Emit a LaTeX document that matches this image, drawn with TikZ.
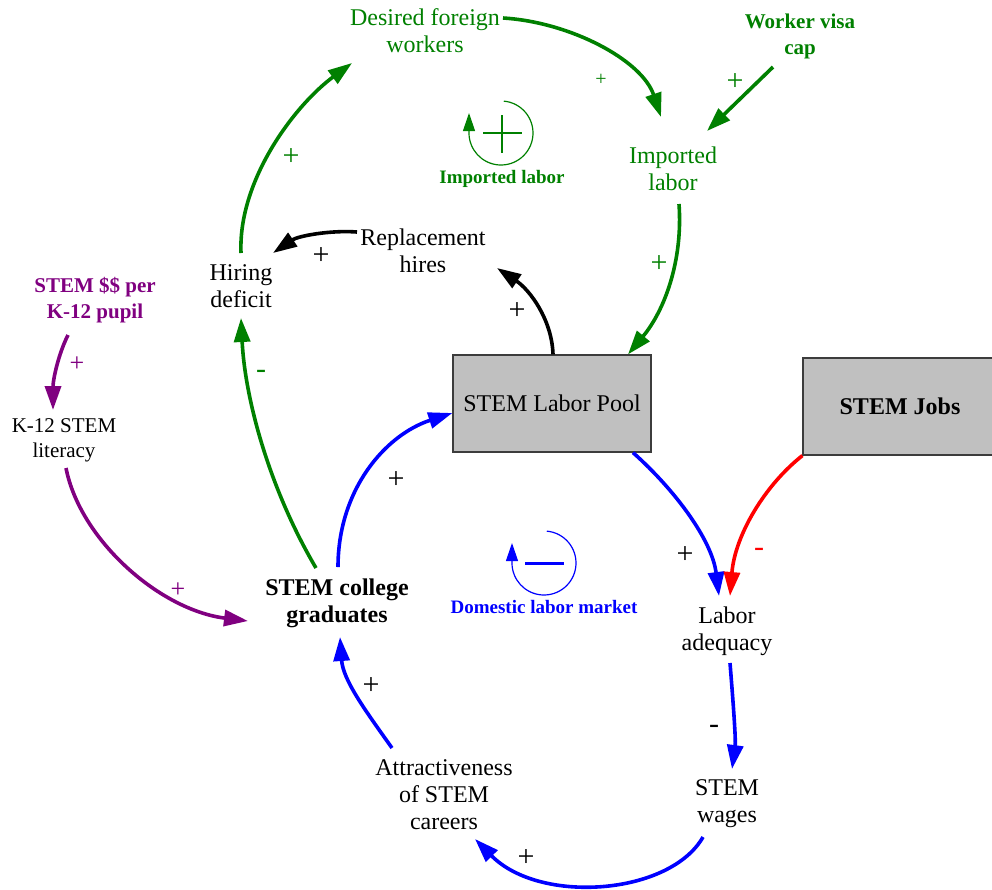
\documentclass[tikz,border=0pt]{standalone}
\usepackage{fontspec}
\setmainfont{Liberation Serif}
\usetikzlibrary{arrows.meta,calc}

\definecolor{cldgreen}{RGB}{0,128,0}
\definecolor{cldpurple}{RGB}{128,0,128}
\definecolor{cldblue}{RGB}{0,0,255}
\definecolor{cldred}{RGB}{255,0,0}
\definecolor{stockfill}{RGB}{192,192,192}
\definecolor{stockline}{RGB}{60,60,60}

\begin{document}
\begin{tikzpicture}[x=0.5pt,y=-0.5pt,
  var/.style={align=center, font=\fontsize{12}{13.5}\selectfont, inner sep=0pt},
  exo/.style={align=center, font=\fontsize{10.5}{13}\selectfont\bfseries, inner sep=0pt},
  stock/.style={draw=stockline, line width=0.6pt, fill=stockfill,
    font=\fontsize{12}{13.5}\selectfont, inner sep=0pt,
    minimum width=99pt, minimum height=48.5pt},
  link/.style={line width=1.8pt, -{Triangle[length=12pt,width=8pt]}},
  pol/.style={font=\fontsize{15}{15}\selectfont, inner sep=0pt},
  loopname/.style={font=\fontsize{9.5}{11}\selectfont\bfseries, inner sep=0pt},
  loopring/.style={line width=0.6pt, -{Triangle[length=9pt,width=6pt]}},
]
\clip (0,0) rectangle (992,890);

% ---- variables ----
\node[var, text=cldgreen] (dfw) at (425,31) {Desired foreign\\workers};
\node[exo, text=cldgreen] (wvc) at (800,36) {Worker visa\\cap};
\node[var, text=cldgreen] (il) at (673,169) {Imported\\labor};
\node[var] (rh) at (423,251) {Replacement\\hires};
\node[var] (hd) at (241,286) {Hiring\\deficit};
\node[exo, text=cldpurple] (spp) at (95,300) {STEM \$\$ per\\K-12 pupil};
\node[var, font=\fontsize{10.5}{12.5}\selectfont] (k12) at (64,440) {K-12 STEM\\literacy};
\node[stock] (lp) at (552,403.5) {STEM Labor Pool};
\node[stock, minimum width=97pt, font=\fontsize{12}{13.5}\selectfont\bfseries] (sj) at (900,406.5) {STEM Jobs};
\node[var, font=\fontsize{12}{13.5}\selectfont\bfseries] (scg) at (337,603) {STEM college\\graduates};
\node[var] (la) at (727,631) {Labor\\adequacy};
\node[var] (sw) at (727,804) {STEM\\wages};
\node[var] (att) at (444,795) {Attractiveness\\of STEM\\careers};

% ---- loop markers ----
\coordinate (loopA) at (501,133);
\draw[loopring, cldgreen] ($(loopA)+(85:16pt)$) arc[start angle=85, end angle=-180, radius=16pt] -- ++(0,-20);
\draw[cldgreen, line width=1.2pt] ($(loopA)+(-18,0)$) -- ($(loopA)+(21,0)$)
  ($(loopA)+(1,-18)$) -- ($(loopA)+(1,20)$);
\node[loopname, text=cldgreen] (loopAname) at (502,179) {Imported labor};

\coordinate (loopB) at (544,563);
\draw[loopring, cldblue] ($(loopB)+(85:16pt)$) arc[start angle=85, end angle=-180, radius=16pt] -- ++(0,-20);
\draw[cldblue, line width=1.5pt] ($(loopB)+(-19,0)$) -- ($(loopB)+(20,0)$);
\node[loopname, text=cldblue] (loopBname) at (544,607) {Domestic labor market};

% ---- causal links ----
\draw[link, cldgreen] ($(hd)+(0,-33)$) .. controls (238,180) and (295,105) .. ($(dfw)+(-73,32)$);
\draw[link, cldgreen] ($(dfw)+(78,-13)$) .. controls (570,22) and (642,60) .. ($(il)+(-12,-52)$);
\draw[link, cldgreen] ($(wvc)+(-27,31)$) -- ($(il)+(34,-38)$);
\draw[link, cldgreen] ($(il)+(6,35)$) .. controls (683,260) and (665,310) .. ($(lp.north)+(76,0)$);
\draw[link, black] ($(lp.north)+(1,0)$) .. controls (552,320) and (530,290) .. ($(rh)+(74,17)$);
\draw[link, black] ($(rh)+(-66,-19)$) .. controls (330,230) and (298,236) .. ($(hd)+(32,-33)$);
\draw[link, cldgreen] ($(scg)+(-21,-35)$) .. controls (270,490) and (245,400) .. ($(hd)+(0,32)$);
\draw[link, cldpurple] ($(spp)+(-27,35)$) .. controls (58,355) and (53,380) .. ($(k12)+(-11,-30)$);
\draw[link, cldpurple] ($(k12)+(2,28)$) .. controls (80,540) and (160,610) .. ($(scg)+(-89,18)$);
\draw[link, cldblue] ($(scg)+(1,-36)$) .. controls (338,490) and (385,435) .. ($(lp.west)+(0,9.5)$);
\draw[link, cldblue] ($(lp.south)+(81,0)$) .. controls (675,490) and (712,540) .. ($(la)+(-8,-35)$);
\draw[link, cldred] (sj.south west) .. controls (765,485) and (735,535) .. ($(la)+(3,-35)$);
\draw[link, cldblue] ($(la)+(3,32)$) .. controls (733,700) and (736,740) .. ($(sw)+(5,-35)$);
\draw[link, cldblue] ($(sw)+(-24,33)$) .. controls (670,895) and (540,905) .. ($(att)+(31,44)$);
\draw[link, cldblue] ($(att)+(-52,-47)$) .. controls (365,710) and (343,680) .. ($(scg)+(3,34)$);

% ---- link polarities ----
\node[pol, text=cldgreen] (p1) at (291,157) {+};
\node[pol, text=cldgreen, font=\fontsize{10}{10}\selectfont] (p2) at (601,80) {+};
\node[pol, text=cldgreen] (p3) at (735,82) {+};
\node[pol, text=cldgreen] (p4) at (659,264) {+};
\node[pol] (p5) at (517,311) {+};
\node[pol] (p6) at (321,256) {+};
\node[pol, text=cldgreen] (p7) at (261,374) {-};
\node[pol, text=cldpurple, font=\fontsize{13}{13}\selectfont] (p8) at (77,364) {+};
\node[pol, text=cldpurple, font=\fontsize{13}{13}\selectfont] (p9) at (178,590) {+};
\node[pol] (p10) at (396,480) {+};
\node[pol] (p11) at (685,555) {+};
\node[pol, text=cldred] (p12) at (759,552) {-};
\node[pol] (p13) at (714,729) {-};
\node[pol] (p14) at (526,858) {+};
\node[pol] (p15) at (371,686) {+};
\end{tikzpicture}
\end{document}
